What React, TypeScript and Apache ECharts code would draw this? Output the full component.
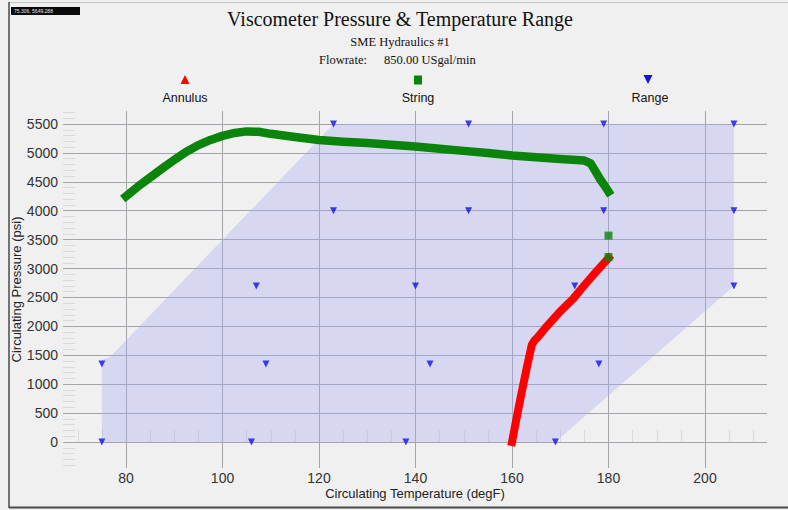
import { useEffect, useRef } from 'react';
import * as echarts from 'echarts';

// Annulus circulation: [temperature degF, pressure psi]
const annulusData: number[][] = [
  [160, 0], [160.8, 350], [161.7, 730], [162.4, 1020], [163.1, 1300], [164.1, 1680],
  [164.7, 1760], [165.3, 1810], [167, 1980], [170, 2260], [172.7, 2480], [175, 2710],
  [177.5, 2950], [180, 3180],
];

// String circulation curve
const stringData: number[][] = [
  [80, 4250], [82.5, 4420], [85, 4575], [87.5, 4730], [90, 4880], [92.5, 5020],
  [95, 5135], [97.5, 5225], [100, 5295], [102.5, 5345], [105, 5372], [107.5, 5365],
  [110, 5330], [115, 5275], [120, 5225], [125, 5195], [130, 5170], [135, 5140],
  [140, 5112], [145, 5072], [150, 5035], [155, 5000], [160, 4955], [165, 4925],
  [170, 4895], [175, 4868], [176.3, 4820], [177.3, 4680], [178.3, 4540],
  [179.3, 4420], [180, 4330],
];

// Separate string readings at bottom-hole temperature
const stringPoints: number[][] = [[180, 3570], [180, 3200]];

// Viscometer test points
const rangePoints: number[][] = [
  [75, 0], [75, 1350], [106, 0], [109, 1350], [107, 2700], [123, 5500], [123, 4000],
  [138, 0], [143, 1350], [140, 2700], [151, 5500], [151, 4000], [169, 0], [178, 1350],
  [173, 2700], [179, 5500], [179, 4000], [206, 5500], [206, 4000], [206, 2700],
];

// Outline of the viscometer envelope
const rangeEnvelope: number[][] = [
  [75, 0], [75, 1420], [76.8, 1480], [123, 5500], [206, 5500], [206, 2700], [169, 0],
];

const xTicks = [80, 100, 120, 140, 160, 180, 200];
const yTicks = [0, 500, 1000, 1500, 2000, 2500, 3000, 3500, 4000, 4500, 5000, 5500];

const SANS = "'Liberation Sans', Arial, sans-serif";
const SERIF = "'Liberation Serif', 'Times New Roman', serif";
const GREEN = '#0a840a';
const RED = '#ff0000';
const BLUE = '#1212e6';

export default function App() {
  const ref = useRef<HTMLDivElement>(null);

  useEffect(() => {
    if (!ref.current) return;
    const chart = echarts.init(ref.current, null, { renderer: 'svg' });

    const gridStyle = { color: '#a4a4aa', width: 1 };

    chart.setOption({
      animation: false,
      backgroundColor: '#f0f0f0',
      textStyle: { fontFamily: SANS },
      grid: {
        left: 63, right: 21, top: 111, bottom: 42,
        containLabel: false,
        outerBoundsMode: 'none',
      },
      xAxis: {
        type: 'value',
        min: 66.94,
        max: 212.85,
        minInterval: 20,
        maxInterval: 20,
        name: 'Circulating Temperature (degF)',
        nameLocation: 'middle',
        nameGap: 19,
        nameMoveOverlap: false,
        nameTextStyle: { fontSize: 13, color: '#222', fontFamily: SANS },
        axisLine: { show: false },
        axisTick: { show: false, inside: true },
        minorTick: { show: true, splitNumber: 4, length: 12, lineStyle: { color: '#dadada' } },
        splitLine: { show: true, showMinLine: false, showMaxLine: false, lineStyle: gridStyle },
        axisLabel: {
          margin: 3,
          fontSize: 14,
          color: '#333',
          formatter: (v: number) => (xTicks.includes(v) ? String(v) : ''),
        },
      },
      yAxis: {
        type: 'value',
        min: -450,
        max: 5725,
        minInterval: 500,
        maxInterval: 500,
        name: 'Circulating Pressure (psi)',
        nameLocation: 'middle',
        nameGap: 40,
        nameMoveOverlap: false,
        nameTextStyle: { fontSize: 13, color: '#222', fontFamily: SANS },
        axisLine: { show: false },
        axisTick: { show: false, inside: true },
        minorTick: { show: true, splitNumber: 5, length: 12, lineStyle: { color: '#dadada' } },
        splitLine: { show: true, showMinLine: false, showMaxLine: false, lineStyle: gridStyle },
        axisLabel: {
          margin: 5,
          fontSize: 14,
          color: '#333',
          formatter: (v: number) => (yTicks.includes(v) ? String(v) : ''),
        },
      },
      series: [
        {
          name: 'Range envelope',
          type: 'custom',
          coordinateSystem: 'cartesian2d',
          data: rangeEnvelope,
          silent: true,
          z: 1,
          renderItem: (params: any, api: any) => {
            if (params.dataIndex !== 0) return null;
            const pts = rangeEnvelope.map((p) => api.coord(p));
            return {
              type: 'polygon',
              shape: { points: pts },
              style: { fill: 'rgba(168,168,246,0.34)', stroke: null },
            };
          },
        },
        {
          name: 'Annulus',
          type: 'line',
          data: annulusData,
          showSymbol: false,
          symbol: 'none',
          z: 3,
          lineStyle: { color: RED, width: 8, cap: 'square', join: 'round' },
        },
        {
          name: 'String',
          type: 'line',
          data: stringData,
          showSymbol: false,
          symbol: 'none',
          z: 4,
          lineStyle: { color: GREEN, width: 8.5, cap: 'square', join: 'round' },
        },
        {
          name: 'String points',
          type: 'scatter',
          data: stringPoints,
          symbol: 'rect',
          symbolSize: 8,
          z: 5,
          itemStyle: { color: GREEN },
        },
        {
          name: 'Range',
          type: 'scatter',
          data: rangePoints,
          symbol: 'triangle',
          symbolRotate: 180,
          symbolSize: [7, 7],
          z: 6,
          itemStyle: { color: BLUE },
        },
      ],
      graphic: [
        // frame
        { type: 'line', shape: { x1: 9, y1: 2.5, x2: 788, y2: 2.5 }, style: { stroke: '#c4c4c4', lineWidth: 1 } },
        { type: 'line', shape: { x1: 9, y1: 2, x2: 9, y2: 508 }, style: { stroke: '#4a4a4a', lineWidth: 1.5 } },
        { type: 'line', shape: { x1: 9, y1: 507.5, x2: 788, y2: 507.5 }, style: { stroke: '#4a4a4a', lineWidth: 2 } },
        // cursor readout
        { type: 'rect', shape: { x: 11, y: 7, width: 69, height: 8 }, style: { fill: '#0a0a0a' } },
        {
          type: 'text', x: 14, y: 11,
          style: { text: '75.306, 5649.288', fill: '#e8e8e8', fontSize: 5, fontFamily: SANS, verticalAlign: 'middle' },
        },
        // titles
        {
          type: 'text', x: 400, y: 19,
          style: { text: 'Viscometer Pressure & Temperature Range', fill: '#111', fontSize: 20, fontFamily: SERIF, align: 'center', verticalAlign: 'middle' },
        },
        {
          type: 'text', x: 400, y: 42,
          style: { text: 'SME Hydraulics #1', fill: '#111', fontSize: 12.5, fontFamily: SERIF, align: 'center', verticalAlign: 'middle' },
        },
        {
          type: 'text', x: 319, y: 60,
          style: { text: 'Flowrate:', fill: '#111', fontSize: 12.5, fontFamily: SERIF, align: 'left', verticalAlign: 'middle' },
        },
        {
          type: 'text', x: 384, y: 60,
          style: { text: '850.00 USgal/min', fill: '#111', fontSize: 12.5, fontFamily: SERIF, align: 'left', verticalAlign: 'middle' },
        },
        // legend
        { type: 'polygon', shape: { points: [[185, 75], [180.5, 84], [189.5, 84]] }, style: { fill: RED } },
        {
          type: 'text', x: 185, y: 98,
          style: { text: 'Annulus', fill: '#111', fontSize: 12.5, fontFamily: SANS, align: 'center', verticalAlign: 'middle' },
        },
        { type: 'rect', shape: { x: 414, y: 75.5, width: 8, height: 9 }, style: { fill: GREEN } },
        {
          type: 'text', x: 418, y: 98,
          style: { text: 'String', fill: '#111', fontSize: 12.5, fontFamily: SANS, align: 'center', verticalAlign: 'middle' },
        },
        { type: 'polygon', shape: { points: [[643.5, 75], [652.5, 75], [648, 84]] }, style: { fill: BLUE } },
        {
          type: 'text', x: 650, y: 98,
          style: { text: 'Range', fill: '#111', fontSize: 12.5, fontFamily: SANS, align: 'center', verticalAlign: 'middle' },
        },
      ],
    });

    return () => chart.dispose();
  }, []);

  return (
    <div
      ref={ref}
      style={{ position: 'absolute', left: 0, top: 0, width: 788, height: 510 }}
    />
  );
}
